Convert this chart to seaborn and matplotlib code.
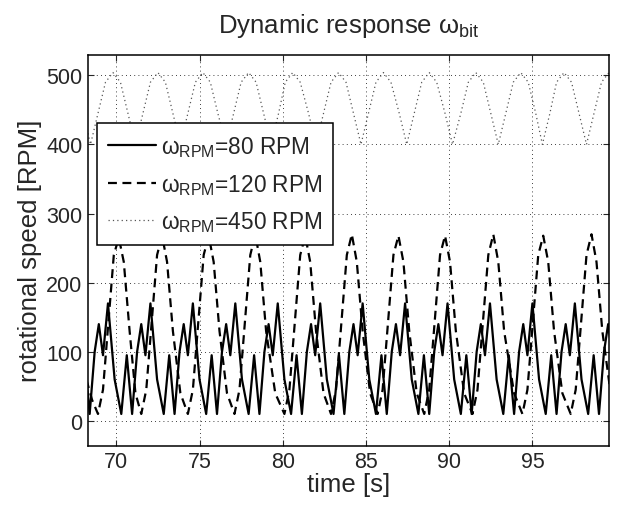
import numpy as np
import pandas as pd
import matplotlib
matplotlib.use("Agg")
import matplotlib.pyplot as plt
import seaborn as sns

# values (time [s], speed [RPM])
t_80 = [67.75, 68.08, 68.40, 68.70, 68.95, 69.20, 69.50, 69.90,
        70.30, 70.63, 70.95, 71.25, 71.50, 71.75, 72.05, 72.45,
        72.85, 73.18, 73.50, 73.80, 74.05, 74.30, 74.60, 75.00,
        75.40, 75.73, 76.05, 76.35, 76.60, 76.85, 77.15, 77.55,
        77.95, 78.28, 78.60, 78.90, 79.15, 79.40, 79.70, 80.10,
        80.50, 80.83, 81.15, 81.45, 81.70, 81.95, 82.25, 82.65,
        83.05, 83.38, 83.70, 84.00, 84.25, 84.50, 84.80, 85.20,
        85.60, 85.93, 86.25, 86.55, 86.80, 87.05, 87.35, 87.75,
        88.15, 88.48, 88.80, 89.10, 89.35, 89.60, 89.90, 90.30,
        90.70, 91.03, 91.35, 91.65, 91.90, 92.15, 92.45, 92.85,
        93.25, 93.58, 93.90, 94.20, 94.45, 94.70, 95.00, 95.40,
        95.80, 96.13, 96.45, 96.75, 97.00, 97.25, 97.55, 97.95,
        98.35, 98.68, 99.00, 99.30, 99.55, 99.80]
w_80 = [10, 95, 10, 100, 140, 95, 170, 60,
        10, 95, 10, 100, 140, 95, 170, 60,
        10, 95, 10, 100, 140, 95, 170, 60,
        10, 95, 10, 100, 140, 95, 170, 60,
        10, 95, 10, 100, 140, 95, 170, 60,
        10, 95, 10, 100, 140, 95, 170, 60,
        10, 95, 10, 100, 140, 95, 170, 60,
        10, 95, 10, 100, 140, 95, 170, 60,
        10, 95, 10, 100, 140, 95, 170, 60,
        10, 95, 10, 100, 140, 95, 170, 60,
        10, 95, 10, 100, 140, 95, 170, 60,
        10, 95, 10, 100, 140, 95, 170, 60,
        10, 95, 10, 100, 140, 95]

t_120 = [68.20, 68.55, 68.90, 69.20, 69.55, 69.85, 70.15, 70.45, 70.80, 71.15,
         71.50, 71.80, 72.15, 72.45, 72.75, 73.05, 73.40, 73.85,
         74.30, 74.60, 74.95, 75.25, 75.55, 75.85, 76.20, 76.65,
         77.10, 77.40, 77.75, 78.05, 78.35, 78.65, 79.00, 79.55,
         80.10, 80.40, 80.75, 81.05, 81.35, 81.65, 82.00, 82.45,
         82.90, 83.20, 83.55, 83.85, 84.15, 84.45, 84.80, 85.25,
         85.70, 86.00, 86.35, 86.65, 86.95, 87.25, 87.60, 88.05,
         88.50, 88.80, 89.15, 89.45, 89.75, 90.05, 90.40, 90.90,
         91.40, 91.70, 92.05, 92.35, 92.65, 92.95, 93.30, 93.90,
         94.40, 94.70, 95.05, 95.35, 95.65, 95.95, 96.30, 96.80,
         97.30, 97.60, 97.95, 98.25, 98.55, 98.85, 99.20, 99.70]
w_120 = [60, 30, 10, 45, 150, 240, 265, 230, 130, 40,
         10, 45, 150, 240, 268, 230, 130, 40,
         10, 45, 150, 240, 268, 230, 130, 40,
         10, 45, 150, 240, 270, 230, 130, 40,
         10, 45, 150, 240, 268, 230, 130, 40,
         10, 45, 150, 240, 270, 230, 130, 40,
         10, 45, 150, 240, 268, 230, 130, 40,
         10, 45, 150, 240, 268, 230, 130, 40,
         10, 45, 150, 240, 270, 230, 130, 40,
         10, 45, 150, 240, 268, 230, 130, 40,
         10, 45, 150, 240, 270, 230, 130, 40]

t_450 = [67.55, 68.00, 68.45, 68.90, 69.35, 69.80, 70.25, 70.70,
         71.15, 71.60, 72.05, 72.50, 72.95, 73.40,
         73.85, 74.30, 74.75, 75.20, 75.65, 76.10,
         76.60, 77.05, 77.50, 77.95, 78.40, 78.85,
         79.30, 79.75, 80.15, 80.60, 81.05, 81.55,
         82.00, 82.45, 82.90, 83.35, 83.80, 84.25,
         84.70, 85.15, 85.60, 86.05, 86.50, 87.00,
         87.45, 87.90, 88.35, 88.80, 89.25, 89.75,
         90.20, 90.70, 91.15, 91.60, 92.05, 92.50,
         92.95, 93.40, 93.85, 94.30, 94.75, 95.20,
         95.60, 96.05, 96.45, 96.90, 97.35, 97.80,
         98.25, 98.70, 99.15, 99.60, 100.00]
w_450 = [490, 445, 400, 445, 490, 504, 490, 445,
         400, 445, 490, 504, 490, 445,
         400, 445, 490, 504, 490, 445,
         400, 445, 490, 504, 490, 445,
         400, 445, 490, 504, 490, 445,
         400, 445, 490, 504, 490, 445,
         400, 445, 490, 504, 490, 445,
         400, 445, 490, 504, 490, 445,
         400, 445, 490, 504, 490, 445,
         400, 445, 490, 504, 490, 445,
         400, 445, 490, 504, 490, 445,
         400, 445, 490, 504, 490]

x_ticks = [70, 75, 80, 85, 90, 95]
y_ticks = [0, 100, 200, 300, 400, 500]


def make_plot():
    sns.set_style("ticks")
    plt.rcParams["font.family"] = ["Liberation Sans", "DejaVu Sans"]
    plt.rcParams["mathtext.default"] = "regular"

    fig = plt.figure(figsize=(6.18, 5.10), dpi=100)
    ax = fig.add_axes([0.1424, 0.124, 0.843, 0.767])

    sns.lineplot(x=t_80, y=w_80, ax=ax, color="k", linewidth=1.6,
                 label=r"$\omega_{RPM}$=80 RPM")
    sns.lineplot(x=t_120, y=w_120, ax=ax, color="k", linewidth=1.6,
                 linestyle=(0, (4, 2.5)), label=r"$\omega_{RPM}$=120 RPM")
    sns.lineplot(x=t_450, y=w_450, ax=ax, color="#555555", linewidth=0.9,
                 linestyle=(0, (1, 2.5)), label=r"$\omega_{RPM}$=450 RPM")

    ax.set_xlim(68.3, 99.6)
    ax.set_ylim(-36, 530)
    ax.set_xticks(x_ticks)
    ax.set_yticks(y_ticks)
    ax.grid(True, color="k", linestyle=(0, (1, 4)), linewidth=0.6)
    ax.tick_params(direction="in", top=True, right=True, length=4,
                   width=0.8, labelsize=15.5, pad=4)
    for s in ax.spines.values():
        s.set_linewidth(1.1)
        s.set_color("k")

    ax.set_xlabel("time [s]", fontsize=18.5, labelpad=0)
    ax.set_ylabel("rotational speed [RPM]", fontsize=18.5, labelpad=3)
    ax.set_title(r"Dynamic response $\omega_{bit}$", fontsize=18.5, pad=16)

    leg = ax.legend(loc="upper left", bbox_to_anchor=(0.0167, 0.825),
                    borderaxespad=0, frameon=True, fancybox=False,
                    edgecolor="k", framealpha=1, fontsize=16.3,
                    handlelength=2.1, handletextpad=0.22, labelspacing=0.55,
                    borderpad=0.5)
    leg.get_frame().set_linewidth(1.1)

    fig.savefig("out.png", dpi=100)


if __name__ == "__main__":
    make_plot()
